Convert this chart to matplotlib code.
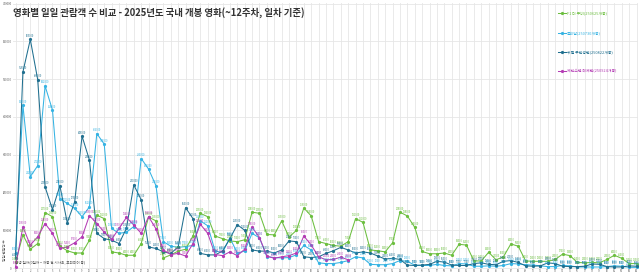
import matplotlib
matplotlib.use("Agg")
import matplotlib.pyplot as plt
import numpy as np

plt.rcParams['font.family'] = ['Noto Sans CJK KR', 'DejaVu Sans']

title = "영화별 일일 관람객 수 비교 - 2025년도 국내 개봉 영화(~12주차, 일차 기준)"
xlabel = "상영 일자(0일차 = 개봉 전 시사회, 프리미어 등)"
ylabel = "일일 관람객 수"

days = list(range(0, 85))

f1_label = "F1 더 무비(250625개봉)"
f1 = [15000, 88000, 50000, 65000, 147000, 136000, 58000, 46000, 40000, 40000,
      74000, 140000, 131000, 43000, 40000, 34000, 34000, 65000, 135000, 125000,
      27000, 35000, 45000, 50000, 85000, 145000, 136000, 85000, 78000, 72000,
      70000, 75000, 148000, 145000, 89000, 88000, 125000, 82000, 100000, 159000,
      138000, 70000, 65000, 60000, 58000, 70000, 131000, 121000, 48000, 46000,
      43000, 67000, 148000, 138000, 108000, 44000, 38000, 38000, 40000, 34000,
      63000, 61000, 19000, 19000, 42000, 22000, 30000, 64000, 58000, 19000,
      18000, 18000, 18000, 23000, 37000, 33000, 15000, 14000, 15000, 14000,
      23000, 34000, 26000, 12000, 12000]

zombie_label = "좀비딸(250730개봉)"
zombie = [40000, 431000, 242000, 271000, 482000, 418000, 184000, 171000, 158000, 136000,
          162000, 356000, 328000, 105000, 92000, 95000, 110000, 290000, 262000, 218000,
          70000, 58000, 55000, 57000, 60000, 125000, 112000, 45000, 42000, 80000,
          40000, 45000, 92000, 80000, 30000, 28000, 27000, 28000, 35000, 60000,
          48000, 14000, 12000, 12000, 15000, 20000, 30000, 27000, 10000, 9000,
          9000, 12000, 20000, 18000, 8000, 7000, 7000, 10000, 7000, 6000,
          12000, 11000, 5000, 5000, 6000, 5000, 7000, 12000, 11000, 9000,
          8000, 6000, 4000, 4000, 7000, 6000, 3000, 3000, 3000, 3000,
          4000, 6000, 5000, 2000, 2000]

kimetsu_label = "귀멸 무한성편(250822개봉)"
kimetsu = [26000, 519000, 605000, 499000, 215000, 155000, 218000, 120000, 175000, 349000,
           286000, 92000, 78000, 74000, 65000, 105000, 220000, 181000, 56000, 52000,
           43000, 39000, 56000, 160000, 131000, 39000, 35000, 35000, 45000, 78000,
           115000, 100000, 48000, 45000, 45000, 40000, 48000, 72000, 70000, 30000,
           28000, 30000, 39000, 46000, 55000, 48000, 40000, 43000, 40000, 32000,
           24000, 26000, 23000, 8000, 7000, 8000, 10000, 18000, 16000, 8000,
           7000, 7000, 12000, 14000, 10000, 9000, 18000, 20000, 15000, 6000,
           5000, 6000, 14000, 12000, 5000, 4000, 4000, 5000, 11000, 10000,
           4000, 3000, 3000, 6000, 5000]

csm_label = "체인소맨 레제편(250924개봉)"
csm = [3000, 109000, 61000, 83000, 118000, 92000, 52000, 56000, 67000, 83000,
       139000, 118000, 95000, 76000, 105000, 134000, 114000, 92000, 136000, 104000,
       48000, 36000, 39000, 32000, 65000, 116000, 92000, 36000, 33000, 43000,
       33000, 50000, 108000, 81000, 32000, 26000, 30000, 33000, 40000, 85000,
       61000, 30000, 22000, 23000, 29000, 22000]

series = [
    (f1_label, f1, "#6cbf3f"),
    (zombie_label, zombie, "#35b3e3"),
    (kimetsu_label, kimetsu, "#1f6f8f"),
    (csm_label, csm, "#b43bb4"),
]

W, H = 640, 273
fig = plt.figure(figsize=(W / 100, H / 100), dpi=100)
ax = fig.add_axes([13 / W, (H - 268.5) / H, 625 / W, 265.5 / H])

for label, vals, color in series:
    xs = days[:len(vals)]
    ax.plot(xs, vals, color=color, lw=0.75, marker='o', ms=1.3, label=label, zorder=3)
    for x, v in zip(xs, vals):
        ax.text(x, v + 4000, f"{v}", color=color, fontsize=1.8, ha='center', va='bottom', zorder=4)

ax.set_xlim(-0.34, 84.2)
ax.set_ylim(-1000, 701400)
ax.set_xticks(days)
ax.set_xticklabels([str(d) for d in days], fontsize=1.8, color='#555555')
ax.set_yticks(np.arange(0, 700001, 100000))
ax.set_yticklabels([str(v) for v in range(0, 700001, 100000)], fontsize=2.0, color='#555555')
ax.tick_params(axis='x', length=0, pad=0.4)
ax.tick_params(axis='y', length=0, pad=1)
ax.grid(True, color='#e6e6e6', lw=0.6)
ax.set_axisbelow(True)
for s in ax.spines.values():
    s.set_visible(False)

ax.text(0.0, 0.985, title, transform=ax.transAxes, fontsize=6.8, fontweight='bold',
        color='#333333', ha='left', va='top')

fig.text(15 / W, 1 - 262 / H, xlabel, fontsize=2.6, color='#555555', ha='left', va='center')
fig.text(5 / W, 1 - 250 / H, ylabel, fontsize=2.6, color='#555555', rotation=90,
         ha='center', va='center')

leg = ax.legend(loc='upper left', bbox_to_anchor=(555 / W, 1 - 9 / H), bbox_transform=fig.transFigure,
                fontsize=2.8, frameon=False, labelspacing=3.9, handlelength=2.0,
                handletextpad=0.4, borderpad=0.2)
for t, (_, _, c) in zip(leg.get_texts(), series):
    t.set_color(c)

fig.savefig("out.png", dpi=100)
